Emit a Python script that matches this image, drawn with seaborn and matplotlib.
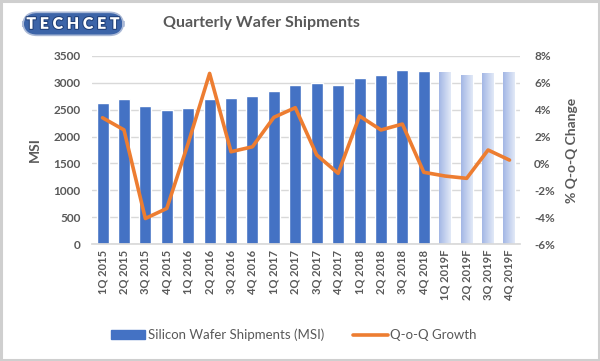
import numpy as np
import pandas as pd
import matplotlib
matplotlib.use('Agg')
import matplotlib.pyplot as plt
import seaborn as sns
from matplotlib.patches import Rectangle
from matplotlib.ticker import FuncFormatter
import matplotlib.patheffects as pe

# data
quarters = ['1Q 2015', '2Q 2015', '3Q 2015', '4Q 2015',
            '1Q 2016', '2Q 2016', '3Q 2016', '4Q 2016',
            '1Q 2017', '2Q 2017', '3Q 2017', '4Q 2017',
            '1Q 2018', '2Q 2018', '3Q 2018', '4Q 2018',
            '1Q 2019F', '2Q 2019F', '3Q 2019F', '4Q 2019F']
shipments = [2620, 2700, 2576, 2502, 2532, 2694, 2725, 2762, 2843, 2967,
             2992, 2967, 3085, 3153, 3240, 3221, 3203, 3153, 3184, 3197]
growth = [3.4, 2.5, -4.1, -3.35, 1.5, 6.7, 0.87, 1.24, 3.43, 4.15,
          0.63, -0.74, 3.53, 2.49, 2.93, -0.66, -0.94, -1.11, 1.0, 0.25]
n_forecast = 4

df = pd.DataFrame({'quarter': quarters, 'msi': shipments, 'growth': growth})
df['pos'] = np.arange(len(df))

sns.set_theme(style='white')
plt.rcParams['font.family'] = ['Lato', 'DejaVu Sans']

grey = '#595959'
blue = '#4472C4'
orange = '#ED7D31'

fig = plt.figure(figsize=(6, 3.61), dpi=100)
ax = fig.add_axes([0.153, 0.324, 0.714, 0.521])

sns.barplot(data=df, x='quarter', y='msi', color=blue, saturation=1,
            width=0.56, ax=ax, zorder=2)
ax.set_yticks(np.arange(0, 3501, 500))
ax.grid(axis='y', color='#D9D9D9', lw=1, zorder=0)
ax.set_axisbelow(True)

# forecast bars: light gradient fill
grad = np.linspace(0, 1, 64).reshape(1, -1)
cmap = matplotlib.colors.LinearSegmentedColormap.from_list('fc', ['#A3B7E5', '#E2E9F7'])
for p in ax.patches[-n_forecast:]:
    p.set_facecolor('none')
    x0, y0 = p.get_x(), p.get_y()
    w, h = p.get_width(), p.get_height()
    im = ax.imshow(grad, cmap=cmap, extent=[x0, x0 + w, y0, y0 + h],
                   aspect='auto', zorder=2, origin='lower')
    im.set_clip_path(p)
ax.set_xlim(-0.5, len(df) - 0.5)
ax.set_ylim(0, 3500)

for s in ['top', 'right', 'left']:
    ax.spines[s].set_visible(False)
ax.spines['bottom'].set_color('#D9D9D9')
ax.tick_params(axis='x', rotation=90, labelsize=8, colors=grey, length=0, pad=4)
ax.tick_params(axis='y', labelsize=8.5, colors=grey, length=0, pad=8)
for lab in ax.get_xticklabels() + ax.get_yticklabels():
    lab.set_fontweight('bold')
ax.set_xlabel('')
ax.set_ylabel('MSI', fontsize=10, color=grey, fontweight='bold', labelpad=9)

ax2 = ax.twinx()
sns.lineplot(data=df, x='pos', y='growth', color=orange, lw=2.6, ax=ax2, zorder=3)
ax2.set_ylim(-6, 8)
ax2.set_yticks(np.arange(-6, 9, 2))
ax2.yaxis.set_major_formatter(FuncFormatter(lambda v, _: f'{v:.0f}%'))
ax2.set_xlim(-0.5, len(df) - 0.5)
for s in ['top', 'right', 'left', 'bottom']:
    ax2.spines[s].set_visible(False)
ax2.tick_params(axis='y', labelsize=8.5, colors=grey, length=0, pad=10)
for lab in ax2.get_yticklabels():
    lab.set_fontweight('bold')
ax2.set_ylabel('% Q-o-Q Change', fontsize=10, color=grey, fontweight='bold', labelpad=8)
ax2.set_xlabel('')

# legend
h_bar = Rectangle((0, 0), 1, 1, color=blue)
h_line = plt.Line2D([0], [0], color=orange, lw=2.6)
fig.legend([h_bar, h_line], ['Silicon Wafer Shipments (MSI)', 'Q-o-Q Growth'],
           loc='center', bbox_to_anchor=(0.49, 0.072), ncol=2, frameon=False,
           fontsize=9.5, labelcolor=grey, handlelength=2.6, handletextpad=0.2,
           columnspacing=2.2)

fig.text(0.435, 0.935, 'Quarterly Wafer Shipments', ha='center', va='center',
         fontsize=11.5, color=grey, fontweight='bold')

# logo
logo = fig.text(0.122, 0.934, 'T E C H C E T', ha='center', va='center', fontsize=11.5,
                color='white', fontweight='heavy',
                bbox=dict(boxstyle='round,pad=0.22,rounding_size=0.9',
                          fc='#3C64A8', ec='#A9B8D6', lw=1.2))
logo.set_path_effects([pe.withStroke(linewidth=1.5, foreground='#1F3F78')])

# frame
fig.patches.append(Rectangle((0.002, 0.004), 0.996, 0.992, transform=fig.transFigure,
                             fill=False, ec='#CFCFCF', lw=2.2))

fig.savefig('out.png', dpi=100)
